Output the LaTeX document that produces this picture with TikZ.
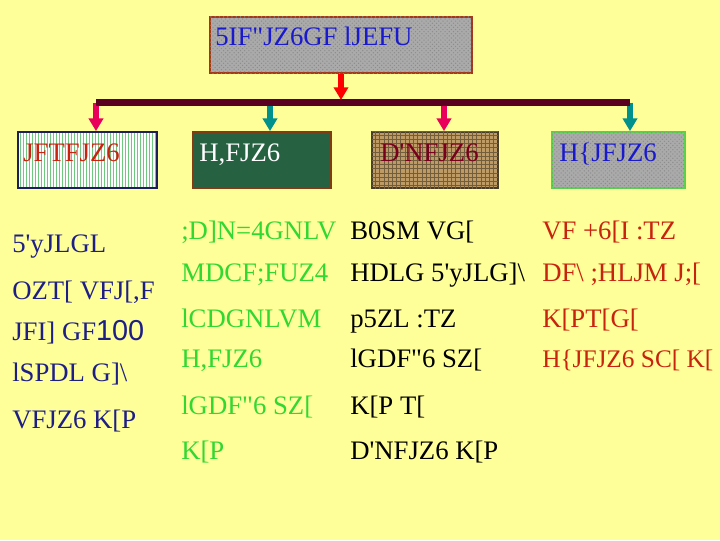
\documentclass[tikz,border=0pt]{standalone}
\usepackage{fontspec}
\setmainfont{Liberation Serif}[Ligatures=TeXOff]
\newfontfamily\digitfont{Liberation Sans}
\usetikzlibrary{arrows.meta,patterns}

\definecolor{paper}{RGB}{255,255,153}
\definecolor{titleblue}{RGB}{25,25,205}
\definecolor{titleframe}{RGB}{165,55,25}
\definecolor{navytext}{RGB}{30,30,135}
\definecolor{navyframe}{RGB}{30,30,90}
\definecolor{leafgreen}{RGB}{50,215,50}
\definecolor{brickred}{RGB}{200,35,15}
\definecolor{wine}{RGB}{90,0,32}
\definecolor{maroontext}{RGB}{120,0,30}
\definecolor{rosered}{RGB}{232,0,90}
\definecolor{tealarrow}{RGB}{0,145,140}
\definecolor{granite}{RGB}{170,170,170}
\definecolor{marble}{RGB}{38,98,66}
\definecolor{marbleframe}{RGB}{130,60,20}
\definecolor{burlap}{RGB}{190,155,100}
\definecolor{burlapframe}{RGB}{70,60,40}
\definecolor{limeframe}{RGB}{90,210,80}
\definecolor{stripe}{RGB}{110,200,125}

\begin{document}
\begin{tikzpicture}[x=0.025cm, y=-0.025cm, font=\fontsize{19}{23}\selectfont,
    txt/.style={anchor=base west, inner sep=0pt},
    panel/.style={minimum height=1.4cm, inner sep=0pt, line width=1.2pt},
    granitefill/.style={fill=granite, postaction={pattern=crosshatch dots, pattern color=black!45}},
    tip/.style={-{Triangle[width=10pt,length=9pt]}, line width=3.6pt}]

    \useasboundingbox[fill=paper] (0,0) rectangle (720,540);

    % title and the four boxes
    \node[panel, granitefill, draw=titleframe, minimum width=6.55cm] (title) at (341,45) {};
    \node[txt, text=titleblue] (title-t) at (215,45) {5IF"JZ6GF lJEFU};

    \node[panel, fill=white, minimum width=3.475cm] (jftf) at (87.5,160) {};
    \foreach \sx in {20,23,...,155}
        \draw[stripe, line width=0.7pt] (\sx,133) -- (\sx,187);
    \node[panel, draw=navyframe, minimum width=3.475cm] at (jftf) {};
    \node[panel, draw=marbleframe, fill=marble, minimum width=3.45cm] (hfj) at (262,160) {};
    \node[panel, draw=burlapframe, fill=burlap, minimum width=3.15cm, postaction={pattern=grid, pattern color=burlap!60!black}] (dnf) at (435,160) {};
    \node[panel, granitefill, draw=limeframe, minimum width=3.325cm] (hjf) at (618.5,160) {};

    \node[txt, text=brickred] (jftf-t) at (23,161) {JFTFJZ6};
    \node[txt, text=white] (hfj-t) at (199,161) {H,FJZ6};
    \node[txt, text=maroontext] (dnf-t) at (380,161) {D'NFJZ6};
    \node[txt, text=titleblue] (hjf-t) at (559,161) {H\{JFJZ6};

    % bar and arrows
    \coordinate (bar-l) at (96,102.5);
    \coordinate (bar-r) at (630,102.5);
    \coordinate (bar-b) at (270,102.5);
    \coordinate (bar-c) at (444,102.5);
    \coordinate (bar-mid) at (341,100);

    \draw[tip, rosered] (bar-l) -- (bar-l |- jftf.north);
    \draw[tip, tealarrow] (bar-b) -- (bar-b |- hfj.north);
    \draw[tip, rosered] (bar-c) -- (bar-c |- dnf.north);
    \draw[tip, tealarrow] (bar-r) -- (bar-r |- hjf.north);
    \draw[wine, line width=5pt] (bar-l) -- (bar-r);
    \draw[tip, red] (title.south) -- (bar-mid);

    % left column
    \node[txt, text=navytext] (left1) at (12,252) {5'yJLGL};
    \node[txt, text=navytext] (left2) at (12,299) {OZT[ VFJ[,F};
    \node[txt, text=navytext] (left3) at (12,340) {JFI] GF{\digitfont\fontsize{20.5}{23}\selectfont 100}};
    \node[txt, text=navytext] (left4) at (12,381) {lSPDL G]\textbackslash};
    \node[txt, text=navytext] (left5) at (12,428) {VFJZ6 K[P};

    % green column
    \node[txt, text=leafgreen] (green1) at (181,239) {;D]N=4GNLV};
    \node[txt, text=leafgreen] (green2) at (181,281) {MDCF;FUZ4};
    \node[txt, text=leafgreen] (green3) at (181,327) {lCDGNLVM};
    \node[txt, text=leafgreen] (green4) at (181,367) {H,FJZ6};
    \node[txt, text=leafgreen] (green5) at (181,414) {lGDF"6 SZ[};
    \node[txt, text=leafgreen] (green6) at (181,459) {K[P};

    % black column
    \node[txt] (black1) at (350,239) {B0SM VG[};
    \node[txt] (black2) at (350,281) {HDLG 5'yJLG]\textbackslash};
    \node[txt] (black3) at (350,327) {p5ZL :TZ};
    \node[txt] (black4) at (350,367) {lGDF"6 SZ[};
    \node[txt] (black5) at (350,414) {K[P T[};
    \node[txt] (black6) at (350,459) {D'NFJZ6 K[P};

    % red column
    \node[txt, text=brickred] (red1) at (542,239) {VF +6[I :TZ};
    \node[txt, text=brickred] (red2) at (542,281) {DF\textbackslash\ ;HLJM J;[};
    \node[txt, text=brickred] (red3) at (542,327) {K[PT[G[};
    \node[txt, text=brickred, font=\fontsize{18}{23}\selectfont] (red4) at (542,367) {H\{JFJZ6 SC[ K[};
\end{tikzpicture}
\end{document}
